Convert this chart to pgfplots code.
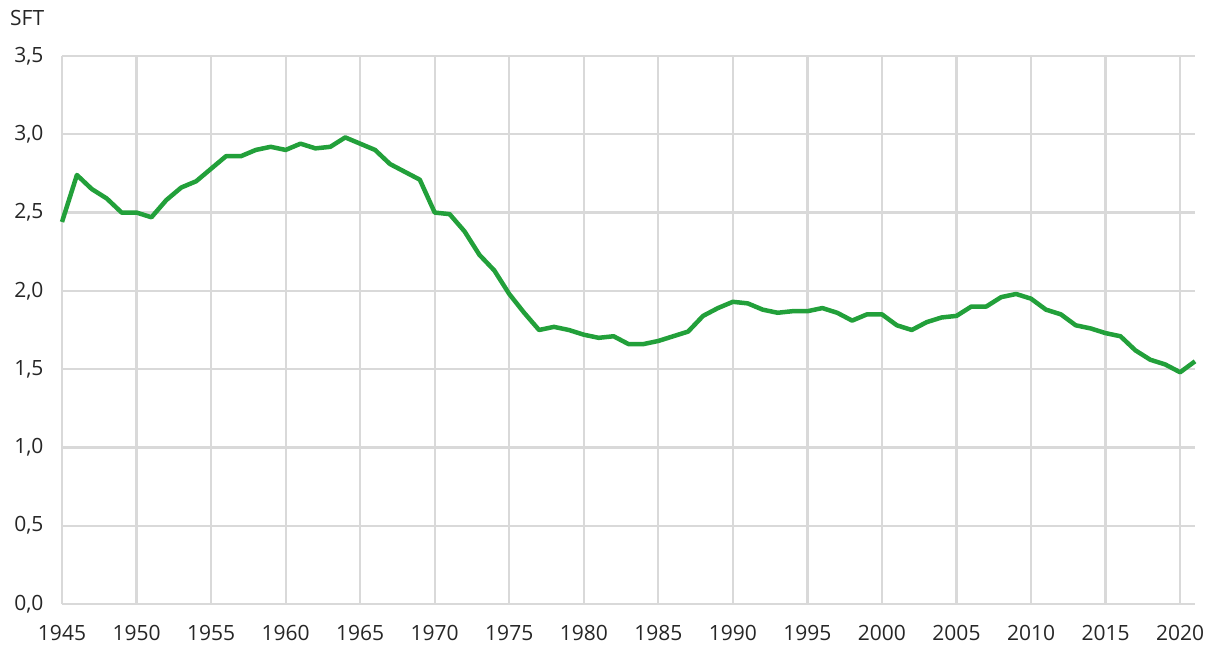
\documentclass[border=0pt]{standalone}
\usepackage{fontspec}
\setmainfont{Open Sans}
\usepackage{pgfplots}
\pgfplotsset{compat=1.18}
\definecolor{linegreen}{RGB}{34,160,58}
\definecolor{gridgray}{RGB}{217,217,217}
\begin{document}
\begin{tikzpicture}
\useasboundingbox (0,0) rectangle (1205pt,645pt);
\begin{axis}[
  at={(62pt,41pt)}, anchor=south west,
  scale only axis, width=1133pt, height=548pt,
  xmin=1945, xmax=2021, ymin=0, ymax=3.5,
  xtick={1945,1950,...,2020},
  ytick={0,0.5,...,3.5},
  axis line style={draw=none},
  major tick length=0pt,
  grid=major,
  major grid style={draw=gridgray, line width=2.2pt},
  font=\fontsize{21}{24}\selectfont,
  tick label style={font=\fontsize{21}{24}\selectfont, text=black!85},
  /pgf/number format/assume math mode=true,
  xticklabel style={/pgf/number format/1000 sep={}, yshift=-18pt},
  yticklabel style={/pgf/number format/use comma, /pgf/number format/fixed, /pgf/number format/fixed zerofill, /pgf/number format/precision=1, xshift=-15pt},
  clip=false,
]
\addplot[linegreen, line width=4.5pt, line join=round] coordinates {
(1945,2.44) (1946,2.74) (1947,2.65) (1948,2.59) (1949,2.50) (1950,2.50)
(1951,2.47) (1952,2.58) (1953,2.66) (1954,2.70) (1955,2.78) (1956,2.86)
(1957,2.86) (1958,2.90) (1959,2.92) (1960,2.90) (1961,2.94) (1962,2.91)
(1963,2.92) (1964,2.98) (1965,2.94) (1966,2.90) (1967,2.81) (1968,2.76)
(1969,2.71) (1970,2.50) (1971,2.49) (1972,2.38) (1973,2.23) (1974,2.13)
(1975,1.98) (1976,1.86) (1977,1.75) (1978,1.77) (1979,1.75) (1980,1.72)
(1981,1.70) (1982,1.71) (1983,1.66) (1984,1.66) (1985,1.68) (1986,1.71)
(1987,1.74) (1988,1.84) (1989,1.89) (1990,1.93) (1991,1.92) (1992,1.88)
(1993,1.86) (1994,1.87) (1995,1.87) (1996,1.89) (1997,1.86) (1998,1.81)
(1999,1.85) (2000,1.85) (2001,1.78) (2002,1.75) (2003,1.80) (2004,1.83)
(2005,1.84) (2006,1.90) (2007,1.90) (2008,1.96) (2009,1.98) (2010,1.95)
(2011,1.88) (2012,1.85) (2013,1.78) (2014,1.76) (2015,1.73) (2016,1.71)
(2017,1.62) (2018,1.56) (2019,1.53) (2020,1.48) (2021,1.55)
};
\end{axis}
\node[anchor=west, font=\fontsize{21}{24}\selectfont, text=black!85, inner sep=0pt] at (10pt,627pt) {SFT};
\end{tikzpicture}
\end{document}
